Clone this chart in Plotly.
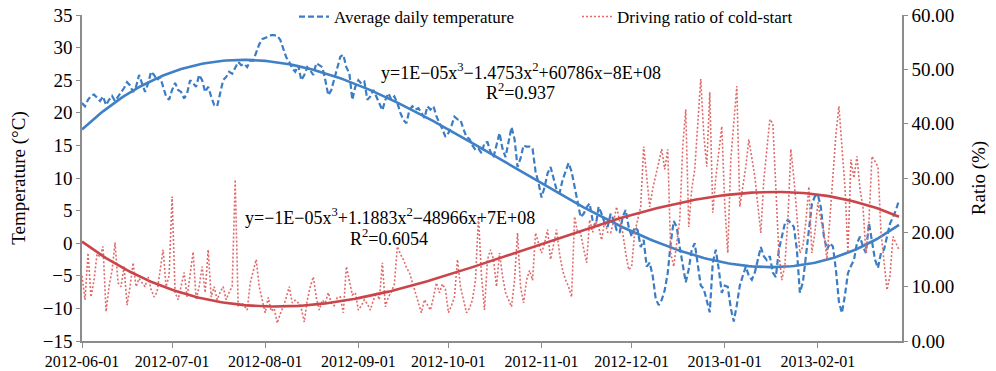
import numpy as np
import pandas as pd
import plotly.graph_objects as go

# ---------------- data (daily values) ----------------
start_date = "2012-06-01"
tick_dates = ["2012-06-01", "2012-07-01", "2012-08-01", "2012-09-01", "2012-10-01",
              "2012-11-01", "2012-12-01", "2013-01-01", "2013-02-01"]

temp_jun = [21.5, 21.0, 22.0, 22.6, 22.8, 22.3, 21.8, 22.5, 21.2, 22.0, 22.6, 21.8, 22.5, 23.0, 23.8,
            24.7, 24.2, 23.2, 24.0, 25.8, 24.5, 23.2, 24.5, 26.3, 25.8, 25.0, 25.5, 24.0, 22.5, 22.0]
temp_jul = [23.5, 24.6, 23.5, 23.2, 22.2, 23.0, 25.0, 24.5, 24.0, 25.8, 25.0, 23.2, 24.0, 22.5, 21.2, 21.0,
            23.0, 25.0, 25.5, 26.3, 26.0, 27.0, 27.8, 27.3, 27.5, 27.0, 28.0, 28.0, 29.1, 30.5, 31.3]
temp_aug = [31.5, 31.8, 31.9, 31.9, 31.8, 31.2, 30.0, 28.5, 27.8, 26.8, 26.3, 27.3, 25.0, 25.8, 27.0, 26.5,
            25.8, 27.6, 27.3, 27.0, 25.0, 22.7, 23.5, 25.3, 27.0, 28.6, 28.9, 27.0, 26.1, 22.0, 24.0]
temp_sep = [25.0, 24.5, 24.8, 22.0, 22.5, 23.5, 22.5, 21.5, 20.4, 22.0, 23.0, 22.0, 22.5, 21.5, 20.0,
            18.9, 18.4, 20.4, 21.0, 20.5, 20.7, 20.0, 19.2, 21.0, 20.5, 21.0, 19.5, 18.4, 17.5, 16.3]
temp_oct = [16.9, 18.0, 19.4, 19.0, 18.9, 17.5, 16.3, 16.0, 15.0, 14.3, 14.5, 13.8, 15.4, 15.5, 14.0, 13.2,
            15.0, 16.9, 14.5, 13.2, 15.5, 17.8, 16.0, 11.7, 13.0, 15.0, 14.8, 14.8, 14.5, 11.0, 9.2]
temp_nov = [7.0, 8.6, 10.7, 11.7, 10.0, 8.2, 7.7, 9.7, 11.0, 12.3, 11.0, 8.5, 6.0, 4.0, 4.5,
            5.5, 6.1, 3.5, 2.5, 5.6, 4.5, 3.1, 2.5, 4.5, 3.6, 2.0, 1.6, 4.0, 5.1, 2.5]
temp_dec = [1.0, 2.5, 2.0, -0.6, 0.5, -3.6, -3.0, -5.0, -8.5, -9.5, -8.7, -7.2, -4.6, 0.0, 3.4, 2.5,
            -0.6, -3.0, -6.0, -4.0, -1.0, 0.0, -3.0, -6.5, -7.0, -9.0, -10.6, -3.0, -1.0, -4.0, -7.6]
temp_jan = [-6.5, -6.7, -10.0, -12.0, -9.5, -6.5, -5.0, -3.6, -5.0, -5.6, -4.5, -2.5, -0.6, -2.0, -2.6, -2.0,
            -4.5, -5.2, -1.0, 1.0, 3.0, 3.6, 3.1, 2.5, -1.0, -7.6, -6.0, -2.0, 2.0, 6.0, 7.2]
temp_feb = [7.4, 5.5, 1.0, -1.0, 0.0, -0.5, -4.1, -9.0, -10.7, -8.0, -4.6, -3.5, -2.6, 0.0,
            1.0, -0.5, -1.5, 3.1, 0.5, -2.5, -3.8, -1.5, -1.0, 1.0, 3.0, 4.0, 5.1, 6.6]

ratio_jun = [12.0, 7.6, 16.2, 8.1, 11.2, 16.0, 15.5, 17.4, 5.4, 10.0, 13.0, 18.1, 10.7, 10.0, 13.7,
             6.6, 10.0, 14.4, 10.0, 11.5, 10.7, 10.0, 11.8, 9.5, 8.1, 9.0, 13.0, 16.8, 10.0, 12.0]
ratio_jul = [26.6, 8.9, 7.6, 10.0, 12.6, 8.1, 12.0, 16.4, 7.6, 10.0, 13.7, 8.9, 16.8, 8.1, 10.0, 7.6,
             9.0, 10.0, 7.6, 9.0, 10.0, 29.7, 6.3, 7.0, 6.5, 5.7, 10.7, 13.0, 15.0, 10.0, 7.6]
ratio_aug = [5.2, 8.0, 5.5, 6.0, 3.3, 5.0, 6.3, 8.0, 10.0, 7.0, 7.5, 7.0, 6.0, 3.5, 7.5, 10.0,
             11.8, 8.0, 5.7, 7.5, 7.0, 8.9, 7.0, 6.5, 8.0, 8.1, 5.2, 13.7, 11.0, 8.5, 8.9]
ratio_sep = [5.7, 6.5, 7.6, 6.8, 5.7, 7.5, 8.9, 7.6, 14.4, 6.3, 8.1, 9.0, 10.5, 17.4, 16.0,
             15.0, 13.5, 12.6, 10.5, 8.9, 7.0, 5.2, 7.6, 6.5, 5.7, 8.0, 10.7, 8.9, 10.5, 9.5]
ratio_oct = [5.2, 6.5, 8.1, 15.0, 10.0, 7.6, 5.2, 6.0, 7.6, 11.2, 22.9, 12.0, 5.7, 15.0, 16.8, 15.0,
             10.0, 16.2, 12.0, 8.9, 7.5, 6.3, 11.2, 19.9, 10.0, 7.0, 11.2, 13.0, 11.2, 19.9, 18.0]
ratio_nov = [16.2, 18.0, 20.5, 15.0, 17.5, 20.5, 16.0, 13.0, 11.2, 10.0, 8.1, 22.9, 20.0, 19.9, 17.0,
             14.4, 22.3, 20.0, 22.0, 21.0, 18.6, 22.0, 20.0, 19.9, 22.0, 24.7, 22.0, 20.0, 16.2, 13.1]
ratio_dec = [13.7, 20.0, 22.3, 24.7, 35.8, 30.0, 24.7, 28.0, 30.3, 33.0, 35.3, 31.6, 35.3, 16.2, 13.7, 18.0,
             22.3, 35.8, 42.6, 21.0, 28.0, 31.6, 40.0, 48.2, 38.0, 32.1, 45.8, 23.6, 30.0, 34.7, 39.5]
ratio_jan = [25.0, 16.2, 33.4, 40.0, 46.9, 24.7, 28.0, 32.1, 37.1, 34.0, 30.3, 25.0, 19.9, 29.7, 35.0, 40.8,
             40.0, 28.4, 16.2, 11.2, 14.0, 22.3, 35.3, 30.0, 22.3, 16.2, 17.4, 22.0, 28.4, 16.2, 20.0]
ratio_feb = [25.5, 22.3, 20.0, 15.0, 22.3, 29.7, 38.0, 43.2, 36.0, 28.4, 16.2, 33.4, 30.0, 34.0,
             28.0, 24.7, 16.2, 22.0, 34.0, 33.0, 32.1, 20.0, 14.0, 9.4, 12.0, 19.2, 18.0, 16.8]

eq_temp = "y=1E\u221205x<sup>3</sup>\u22121.4753x<sup>2</sup>+60786x\u22128E+08"
r2_temp = "R<sup>2</sup>=0.937"
eq_ratio = "y=\u22121E\u221205x<sup>3</sup>+1.1883x<sup>2</sup>\u221248966x+7E+08"
r2_ratio = "R<sup>2</sup>=0.6054"

# ---------------- assemble ----------------
temp = (temp_jun + temp_jul + temp_aug + temp_sep + temp_oct + temp_nov + temp_dec + temp_jan + temp_feb)
ratio = (ratio_jun + ratio_jul + ratio_aug + ratio_sep + ratio_oct + ratio_nov + ratio_dec + ratio_jan + ratio_feb)
dates = pd.date_range(start_date, periods=len(temp), freq="D")
t = np.arange(len(temp), dtype=float)

temp_fit = np.polyval(np.polyfit(t, temp, 3), t)
ratio_fit = np.polyval(np.polyfit(t, ratio, 3), t)

FONT = "Liberation Serif, Times New Roman, serif"
AX = "#8c8c8c"

fig = go.Figure()
fig.add_trace(go.Scatter(x=dates, y=temp, mode="lines", name="Average daily temperature",
                         line=dict(color="#3b7cc3", width=2.2, dash="6px,3px")))
fig.add_trace(go.Scatter(x=dates, y=ratio, mode="lines", name="Driving ratio of cold-start", yaxis="y2",
                         line=dict(color="#e06a6a", width=1.6, dash="2px,2px")))
fig.add_trace(go.Scatter(x=dates, y=temp_fit, mode="lines", showlegend=False,
                         line=dict(color="#3f80c6", width=2.6)))
fig.add_trace(go.Scatter(x=dates, y=ratio_fit, mode="lines", showlegend=False, yaxis="y2",
                         line=dict(color="#c9454a", width=2.6)))

L, R, T, B = 82, 94, 15, 30
W, H = 996, 371
pw, ph = W - L - R, H - T - B


def px(x):
    return (x - L) / pw


def py(y):
    return (H - B - y) / ph


for txt, xc, yc in [(eq_temp, 521, 71), (r2_temp, 520, 91), (eq_ratio, 390, 216), (r2_ratio, 389, 237)]:
    fig.add_annotation(text=txt, x=px(xc), y=py(yc), xref="paper", yref="paper",
                       showarrow=False, xanchor="center", yanchor="middle",
                       font=dict(family=FONT, size=18, color="black"))

fig.update_layout(
    width=W, height=H,
    margin=dict(l=L, r=R, t=T, b=B, autoexpand=False),
    paper_bgcolor="white", plot_bgcolor="white",
    font=dict(family=FONT, color="black"),
    showlegend=True,
    legend=dict(orientation="h", x=px(294), y=py(17), xanchor="left", yanchor="middle",
                font=dict(family=FONT, size=17), bgcolor="rgba(0,0,0,0)",
                entrywidth=238, entrywidthmode="pixels"),
    xaxis=dict(type="date", range=["2012-06-01", "2013-03-01"], tickvals=tick_dates,
               tickformat="%Y-%m-%d", showgrid=False, zeroline=False,
               showline=True, linecolor=AX, linewidth=1.5, ticks="outside", ticklen=5, tickcolor=AX,
               tickfont=dict(family=FONT, size=16, color="black")),
    yaxis=dict(range=[-15, 35], dtick=5, showgrid=False, zeroline=False,
               showline=True, linecolor=AX, linewidth=1.5, ticks="outside", ticklen=4, tickcolor=AX,
               tickfont=dict(family=FONT, size=19, color="black"),
               title=dict(text="Temperature (\u00b0C)", font=dict(family=FONT, size=19), standoff=12)),
    yaxis2=dict(range=[0, 60], dtick=10, tickformat=".2f", overlaying="y", side="right",
                showgrid=False, zeroline=False,
                showline=True, linecolor=AX, linewidth=1.5, ticks="outside", ticklen=4, tickcolor=AX,
                tickfont=dict(family=FONT, size=19, color="black"),
                title=dict(text="Ratio (%)", font=dict(family=FONT, size=19), standoff=18)),
)

fig.write_html("out.html")
